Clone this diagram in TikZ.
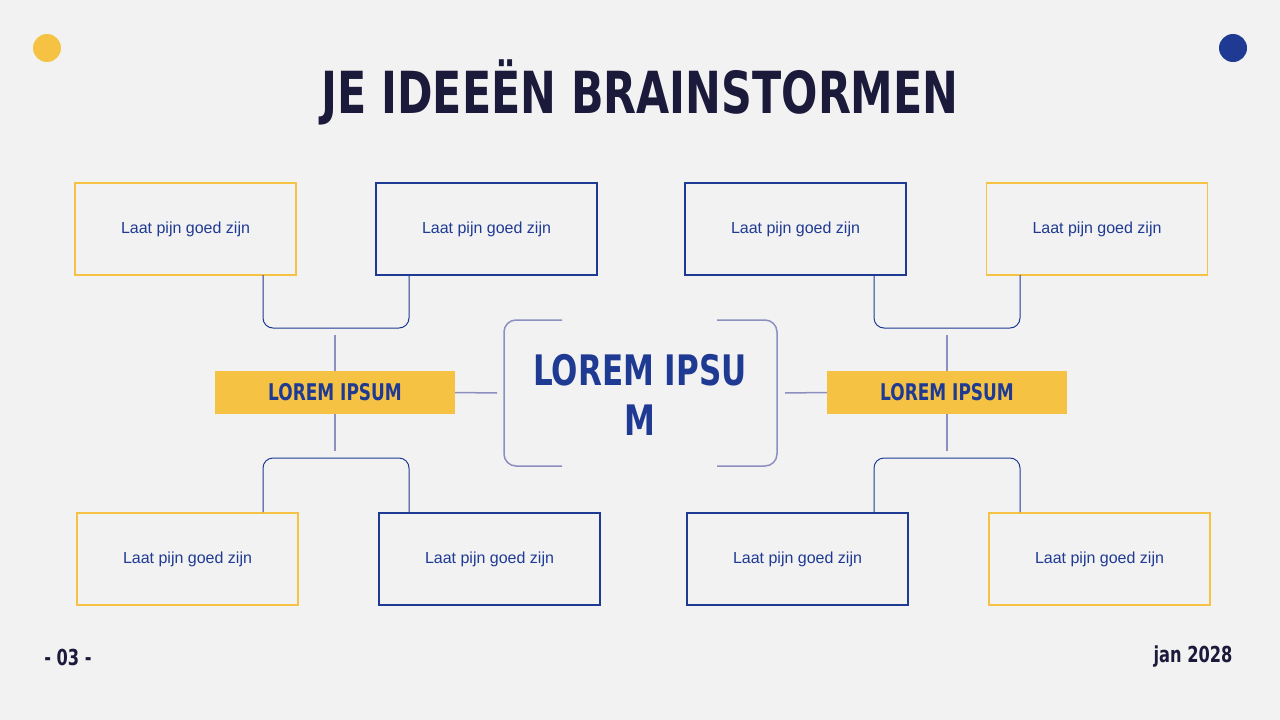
\documentclass[tikz,border=0pt]{standalone}
\usepackage{fontspec}
\setmainfont{Liberation Sans}
\newfontfamily\cond{DejaVu Sans Condensed}[BoldFont={DejaVu Sans Condensed Bold},FakeStretch=0.82]
\definecolor{bg}{HTML}{F2F2F2}
\definecolor{navy}{HTML}{1F3A93}
\definecolor{ttl}{HTML}{1B1A3A}
\definecolor{yel}{HTML}{F6C244}
\definecolor{lav}{HTML}{8C8FC0}
\tikzset{
 ybox/.style={draw=yel,line width=1.2pt,minimum width=221pt,minimum height=92pt,font=\fontsize{16}{18}\selectfont,text=navy},
 bbox/.style={ybox,draw=navy},
 bar/.style={fill=yel,minimum width=240pt,minimum height=43pt,font=\cond\bfseries\fontsize{23}{25}\selectfont,text=navy},
 brk/.style={draw=navy,line width=1pt,rounded corners=10pt},
 lv/.style={draw=lav,line width=1.5pt},
}
\begin{document}
\begin{tikzpicture}[x=1pt,y=-1pt]
\fill[bg] (0,0) rectangle (1280,720);
\useasboundingbox (0,0) rectangle (1280,720);
\fill[yel] (47,48) circle (14);
\fill[navy] (1233,48) circle (14);
\node[font=\cond\bfseries\fontsize{58}{60}\selectfont,text=ttl] (title) at (640,92) {JE IDEEËN BRAINSTORMEN};
% boxes
\node[ybox] (a1) at (185.5,229) {Laat pijn goed zijn};
\node[bbox] (a2) at (486.5,229) {Laat pijn goed zijn};
\node[bbox] (a3) at (795.5,229) {Laat pijn goed zijn};
\node[ybox] (a4) at (1097,229) {Laat pijn goed zijn};
\node[ybox] (b1) at (187.5,559) {Laat pijn goed zijn};
\node[bbox] (b2) at (489.5,559) {Laat pijn goed zijn};
\node[bbox] (b3) at (797.5,559) {Laat pijn goed zijn};
\node[ybox] (b4) at (1099.5,559) {Laat pijn goed zijn};
% bars
\node[bar] (L) at (335,392.5) {LOREM IPSUM};
\node[bar] (R) at (947,392.5) {LOREM IPSUM};
\node[font=\cond\bfseries\fontsize{42}{50}\selectfont,text=navy,align=center] (C) at (640,395) {LOREM IPSU\\M};
% brackets
\draw[brk] (263,275) -- (263,328) -- (409,328) -- (409,275);
\draw[brk] (263,512) -- (263,458) -- (409,458) -- (409,512);
\draw[brk] (874,275) -- (874,328) -- (1020,328) -- (1020,275);
\draw[brk] (874,512) -- (874,458) -- (1020,458) -- (1020,512);
\draw[lv] (335,335) -- (L.north);
\draw[lv] (L.south) -- (335,451);
\draw[lv] (947,335) -- (R.north);
\draw[lv] (R.south) -- (947,451);
\draw[lv] (L.east) -- (497,393);
\draw[lv] (785,393) -- (R.west);
\draw[lav,line width=1.5pt,rounded corners=12pt] (562,320) -- (504,320) -- (504,466) -- (562,466);
\draw[lav,line width=1.5pt,rounded corners=12pt] (717,320) -- (777,320) -- (777,466) -- (717,466);
\node[font=\cond\bfseries\fontsize{22}{24}\selectfont,text=ttl] (pg) at (68,657) {- 03 -};
\node[font=\cond\bfseries\fontsize{22}{24}\selectfont,text=ttl] (dt) at (1193,657) {jan 2028};
\end{tikzpicture}
\end{document}
